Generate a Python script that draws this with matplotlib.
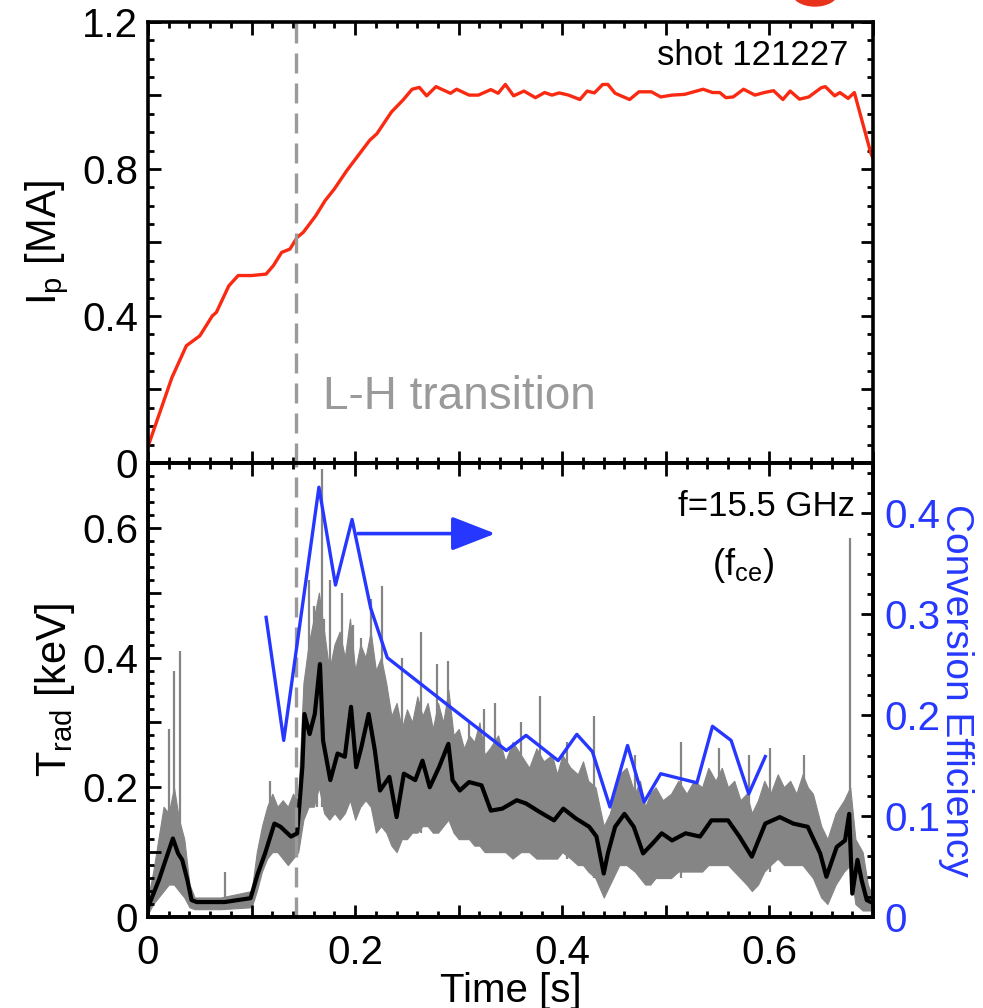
import matplotlib
matplotlib.use('Agg')

import matplotlib.pyplot as plt
import matplotlib.ticker as ticker
from matplotlib.patches import Ellipse

plt.rcParams['font.family'] = ['Liberation Sans', 'DejaVu Sans']
plt.rcParams['mathtext.default'] = 'regular'

# plasma current, top panel
ip_t = [0.0, 0.023, 0.037, 0.050, 0.062, 0.066, 0.078, 0.087, 0.100, 0.114, 0.121,
		0.129, 0.137, 0.144, 0.150, 0.162, 0.171, 0.180, 0.192, 0.203, 0.214, 0.221,
		0.235, 0.246, 0.255, 0.262, 0.269, 0.278, 0.292, 0.298, 0.310, 0.319, 0.331,
		0.338, 0.345, 0.353, 0.363, 0.374, 0.383, 0.390, 0.397, 0.406, 0.417, 0.424,
		0.431, 0.439, 0.444, 0.451, 0.465, 0.474, 0.486, 0.495, 0.506, 0.518, 0.527,
		0.536, 0.545, 0.552, 0.558, 0.565, 0.575, 0.586, 0.595, 0.604, 0.613, 0.620,
		0.629, 0.638, 0.650, 0.654, 0.663, 0.668, 0.676, 0.682, 0.698, 0.700]
ip_ma = [0.045, 0.232, 0.319, 0.346, 0.400, 0.410, 0.482, 0.510, 0.510, 0.514, 0.537,
		 0.573, 0.582, 0.614, 0.628, 0.673, 0.714, 0.746, 0.796, 0.837, 0.878, 0.896,
		 0.955, 0.987, 1.017, 1.022, 0.999, 1.024, 1.006, 1.017, 1.001, 1.001, 1.016,
		 1.006, 1.030, 0.999, 1.012, 0.994, 1.008, 1.001, 1.007, 1.001, 0.989, 1.012,
		 1.007, 1.030, 1.030, 1.006, 0.989, 1.010, 1.010, 0.996, 1.001, 1.003, 1.010,
		 1.017, 1.008, 1.008, 0.994, 0.996, 1.017, 1.001, 1.008, 1.013, 0.989, 1.012,
		 0.990, 0.996, 1.021, 1.024, 0.999, 1.008, 0.992, 1.008, 0.842, 0.830]

# smoothed radiation temperature (black)
trad_t = [0.0, 0.0105, 0.017, 0.024, 0.029, 0.033, 0.038, 0.042, 0.047, 0.074, 0.099,
		  0.106, 0.113, 0.122, 0.128, 0.138, 0.144, 0.149, 0.151, 0.156, 0.161, 0.166,
		  0.169, 0.176, 0.183, 0.190, 0.196, 0.201, 0.206, 0.213, 0.219, 0.224, 0.233,
		  0.240, 0.247, 0.258, 0.265, 0.272, 0.281, 0.290, 0.294, 0.301, 0.310, 0.322,
		  0.331, 0.342, 0.356, 0.365, 0.378, 0.392, 0.401, 0.413, 0.426, 0.433, 0.440,
		  0.444, 0.451, 0.460, 0.469, 0.478, 0.487, 0.496, 0.506, 0.519, 0.533, 0.544,
		  0.560, 0.571, 0.583, 0.596, 0.610, 0.623, 0.637, 0.649, 0.655, 0.665, 0.673,
		  0.677, 0.680, 0.685, 0.689, 0.694, 0.698]
trad_kev = [0.015, 0.057, 0.088, 0.121, 0.098, 0.088, 0.057, 0.026, 0.023, 0.023, 0.029,
			0.067, 0.098, 0.144, 0.139, 0.124, 0.129, 0.231, 0.313, 0.282, 0.313, 0.390,
			0.272, 0.211, 0.252, 0.247, 0.324, 0.231, 0.262, 0.313, 0.257, 0.195, 0.216,
			0.154, 0.221, 0.211, 0.241, 0.200, 0.231, 0.267, 0.211, 0.195, 0.208, 0.203,
			0.164, 0.167, 0.180, 0.175, 0.162, 0.149, 0.167, 0.152, 0.139, 0.124, 0.067,
			0.098, 0.139, 0.159, 0.139, 0.098, 0.113, 0.129, 0.118, 0.129, 0.124, 0.149,
			0.149, 0.124, 0.093, 0.144, 0.154, 0.144, 0.139, 0.098, 0.062, 0.108, 0.118,
			0.159, 0.036, 0.088, 0.057, 0.026, 0.023]

# raw signal (grey): envelope
env_t = [0.0, 0.005, 0.010, 0.015, 0.020, 0.025, 0.030, 0.035, 0.040, 0.045, 0.070,
		 0.100, 0.105, 0.110, 0.115, 0.120, 0.125, 0.130, 0.135, 0.140, 0.145, 0.150,
		 0.155, 0.160, 0.165, 0.170, 0.175, 0.180, 0.185, 0.190, 0.195, 0.200, 0.205,
		 0.210, 0.215, 0.220, 0.225, 0.230, 0.235, 0.240, 0.245, 0.250, 0.255, 0.260,
		 0.265, 0.270, 0.275, 0.280, 0.285, 0.290, 0.295, 0.300, 0.305, 0.310, 0.315,
		 0.320, 0.325, 0.330, 0.338, 0.345, 0.352, 0.360, 0.368, 0.375, 0.382, 0.390,
		 0.395, 0.400, 0.408, 0.415, 0.420, 0.425, 0.432, 0.440, 0.446, 0.455, 0.462,
		 0.470, 0.475, 0.480, 0.485, 0.490, 0.497, 0.505, 0.512, 0.520, 0.527, 0.535,
		 0.541, 0.548, 0.554, 0.560, 0.566, 0.572, 0.578, 0.583, 0.589, 0.595, 0.601,
		 0.608, 0.614, 0.620, 0.626, 0.632, 0.637, 0.642, 0.650, 0.656, 0.664, 0.672,
		 0.678, 0.683, 0.690, 0.695, 0.700]
env_up = [0.03, 0.07, 0.12, 0.17, 0.16, 0.20, 0.15, 0.12, 0.05, 0.03, 0.03,
		  0.04, 0.10, 0.14, 0.17, 0.19, 0.17, 0.18, 0.17, 0.19, 0.18, 0.36,
		  0.42, 0.46, 0.50, 0.44, 0.38, 0.42, 0.44, 0.40, 0.46, 0.38, 0.42,
		  0.40, 0.44, 0.38, 0.40, 0.36, 0.31, 0.33, 0.29, 0.32, 0.30, 0.34,
		  0.31, 0.33, 0.29, 0.33, 0.30, 0.35, 0.28, 0.29, 0.26, 0.28, 0.27,
		  0.30, 0.25, 0.26, 0.28, 0.24, 0.27, 0.25, 0.23, 0.26, 0.24, 0.25,
		  0.22, 0.25, 0.23, 0.22, 0.24, 0.21, 0.20, 0.14, 0.16, 0.22, 0.23,
		  0.19, 0.21, 0.17, 0.19, 0.20, 0.18, 0.19, 0.21, 0.19, 0.21, 0.20,
		  0.23, 0.21, 0.23, 0.20, 0.21, 0.18, 0.19, 0.16, 0.18, 0.21, 0.19,
		  0.22, 0.20, 0.21, 0.19, 0.22, 0.20, 0.19, 0.14, 0.12, 0.16, 0.18,
		  0.20, 0.12, 0.10, 0.05, 0.03]
env_lo = [0.005, 0.02, 0.03, 0.04, 0.05, 0.05, 0.04, 0.03, 0.015, 0.012, 0.012,
		  0.015, 0.04, 0.07, 0.09, 0.10, 0.10, 0.09, 0.08, 0.09, 0.10, 0.15,
		  0.17, 0.17, 0.20, 0.16, 0.15, 0.16, 0.15, 0.16, 0.18, 0.15, 0.17,
		  0.18, 0.17, 0.13, 0.14, 0.13, 0.11, 0.10, 0.12, 0.12, 0.13, 0.13,
		  0.14, 0.14, 0.13, 0.13, 0.14, 0.15, 0.13, 0.12, 0.12, 0.12, 0.11,
		  0.11, 0.10, 0.10, 0.10, 0.10, 0.09, 0.10, 0.10, 0.09, 0.09, 0.09,
		  0.09, 0.10, 0.09, 0.08, 0.08, 0.07, 0.06, 0.03, 0.05, 0.08, 0.08,
		  0.07, 0.06, 0.05, 0.05, 0.06, 0.06, 0.06, 0.07, 0.07, 0.07, 0.07,
		  0.08, 0.08, 0.08, 0.08, 0.07, 0.06, 0.05, 0.04, 0.05, 0.07, 0.08,
		  0.09, 0.08, 0.08, 0.08, 0.08, 0.07, 0.06, 0.03, 0.02, 0.05, 0.07,
		  0.08, 0.02, 0.01, 0.01, 0.01]

# the tallest single spikes of the raw signal
spike_t = [0.020, 0.025, 0.031, 0.074, 0.118, 0.155, 0.160, 0.163, 0.168, 0.170, 0.176,
		   0.187, 0.198, 0.206, 0.215, 0.226, 0.245, 0.264, 0.279, 0.290, 0.310, 0.324,
		   0.335, 0.360, 0.378, 0.405, 0.431, 0.470, 0.515, 0.551, 0.580, 0.601, 0.633,
		   0.678]
spike_base = [0.05, 0.05, 0.04, 0.012, 0.10, 0.17, 0.17, 0.17, 0.17, 0.17, 0.15,
			  0.16, 0.18, 0.17, 0.17, 0.14, 0.12, 0.13, 0.13, 0.15, 0.12, 0.11,
			  0.10, 0.10, 0.09, 0.09, 0.06, 0.07, 0.06, 0.08, 0.05, 0.07, 0.08,
			  0.08]
spike_top = [0.29, 0.38, 0.41, 0.07, 0.21, 0.52, 0.48, 0.46, 0.69, 0.46, 0.52,
			 0.50, 0.45, 0.43, 0.49, 0.51, 0.40, 0.44, 0.39, 0.395, 0.30, 0.32,
			 0.33, 0.30, 0.34, 0.27, 0.31, 0.25, 0.27, 0.26, 0.25, 0.26, 0.25,
			 0.585]

# conversion efficiency (blue, right axis)
ce_t = [0.114, 0.131, 0.165, 0.181, 0.197, 0.215, 0.231, 0.287, 0.346, 0.365, 0.396,
		0.414, 0.429, 0.446, 0.463, 0.479, 0.495, 0.530, 0.545, 0.563, 0.580, 0.596]
ce = [0.297, 0.175, 0.426, 0.329, 0.394, 0.306, 0.257, 0.212, 0.165, 0.180, 0.155,
	  0.181, 0.164, 0.109, 0.170, 0.114, 0.142, 0.133, 0.189, 0.175, 0.122, 0.159]

lh_time = 0.143

red = '#fa2a12'
blue = '#2638ff'
grey = '#858585'
lh_grey = '#9a9a9a'


def style_axis(ax):
	for side in ax.spines.values():
		side.set_linewidth(2.6)
	ax.tick_params(which='both', direction='in', width=2.0, labelsize=29)
	ax.tick_params(which='major', length=9)
	ax.tick_params(which='minor', length=4)


def fmt(v, pos):
	return '0' if abs(v) < 1e-9 else '%g' % v


figure = plt.figure(figsize=(9.83, 10.08), dpi=100)
top = figure.add_axes([0.1506, 0.5407, 0.7375, 0.4375])
bottom = figure.add_axes([0.1506, 0.0903, 0.7375, 0.4504], sharex=top)
right = bottom.twinx()

# top panel
top.plot(ip_t, ip_ma, color=red, lw=2.4)
top.axvline(lh_time, color=lh_grey, lw=2.4, ls=(0, (6, 3)))
top.set_ylim(0, 1.2)
top.set_xlim(0, 0.7)
top.yaxis.set_major_locator(ticker.MultipleLocator(0.2))
top.yaxis.set_minor_locator(ticker.MultipleLocator(0.05))
top.yaxis.set_major_formatter(ticker.FuncFormatter(
	lambda v, p: fmt(v, p) if round(v / 0.4, 6) % 1 == 0 else ''))
top.xaxis.set_major_locator(ticker.MultipleLocator(0.1))
top.xaxis.set_minor_locator(ticker.MultipleLocator(0.02))
style_axis(top)
top.tick_params(which='both', top=True, right=True, labelbottom=False, pad=7)
top.set_ylabel('I$_{p}$ [MA]', fontsize=30, labelpad=8)
top.text(0.966, 0.925, 'shot 121227', transform=top.transAxes, ha='right',
		 va='center', fontsize=25)
top.text(0.169, 0.18, 'L-H transition', color=lh_grey, fontsize=33,
		 ha='left', va='center')

# bottom panel
bottom.fill_between(env_t, env_lo, env_up, color=grey, lw=0.8, edgecolor=grey)
bottom.vlines(spike_t, spike_base, spike_top, color=grey, lw=1.6)
bottom.plot(trad_t, trad_kev, color='black', lw=3.0)
bottom.axvline(lh_time, color=lh_grey, lw=2.4, ls=(0, (6, 3)))
bottom.set_ylim(0, 0.7)
bottom.yaxis.set_major_locator(ticker.MultipleLocator(0.1))
bottom.yaxis.set_minor_locator(ticker.MultipleLocator(0.02))
bottom.yaxis.set_major_formatter(ticker.FuncFormatter(
	lambda v, p: fmt(v, p) if round(v / 0.2, 6) % 1 == 0 else ''))
bottom.xaxis.set_major_formatter(ticker.FuncFormatter(
	lambda v, p: fmt(v, p) if round(v / 0.2, 6) % 1 == 0 else ''))
style_axis(bottom)
bottom.tick_params(which='both', top=True, right=False, pad=7)
bottom.tick_params(axis='x', which='major', pad=12)
bottom.set_ylabel('T$_{rad}$ [keV]', fontsize=30, labelpad=4)
bottom.set_xlabel('Time [s]', fontsize=29, labelpad=0)
bottom.text(0.975, 0.905, 'f=15.5 GHz', transform=bottom.transAxes, ha='right',
			va='center', fontsize=25)
bottom.text(0.82, 0.775, '(f$_{ce}$)', transform=bottom.transAxes, ha='center',
			va='center', fontsize=26)

right.plot(ce_t, ce, color=blue, lw=2.4)
right.annotate('', xy=(0.338, 0.38), xytext=(0.200, 0.38),
			   arrowprops=dict(arrowstyle='-|>,head_length=0.9,head_width=0.35',
							   color=blue, lw=2.6, mutation_scale=30))
right.set_ylim(0, 0.45)
right.yaxis.set_major_locator(ticker.MultipleLocator(0.1))
right.yaxis.set_minor_locator(ticker.MultipleLocator(0.02))
right.yaxis.set_major_formatter(ticker.FuncFormatter(fmt))
style_axis(right)
right.tick_params(axis='y', which='both', labelcolor=blue, pad=8)
right.set_ylabel('Conversion Efficiency', color=blue, fontsize=28,
				 rotation=270, labelpad=24)

# cropped logo at the top edge
figure.patches.append(Ellipse((815 / 983, 1 + 8 / 1008), 46 / 983, 28 / 1008,
							  transform=figure.transFigure, color='#e8321c',
							  figure=figure))

figure.savefig('out.png', dpi=100)
